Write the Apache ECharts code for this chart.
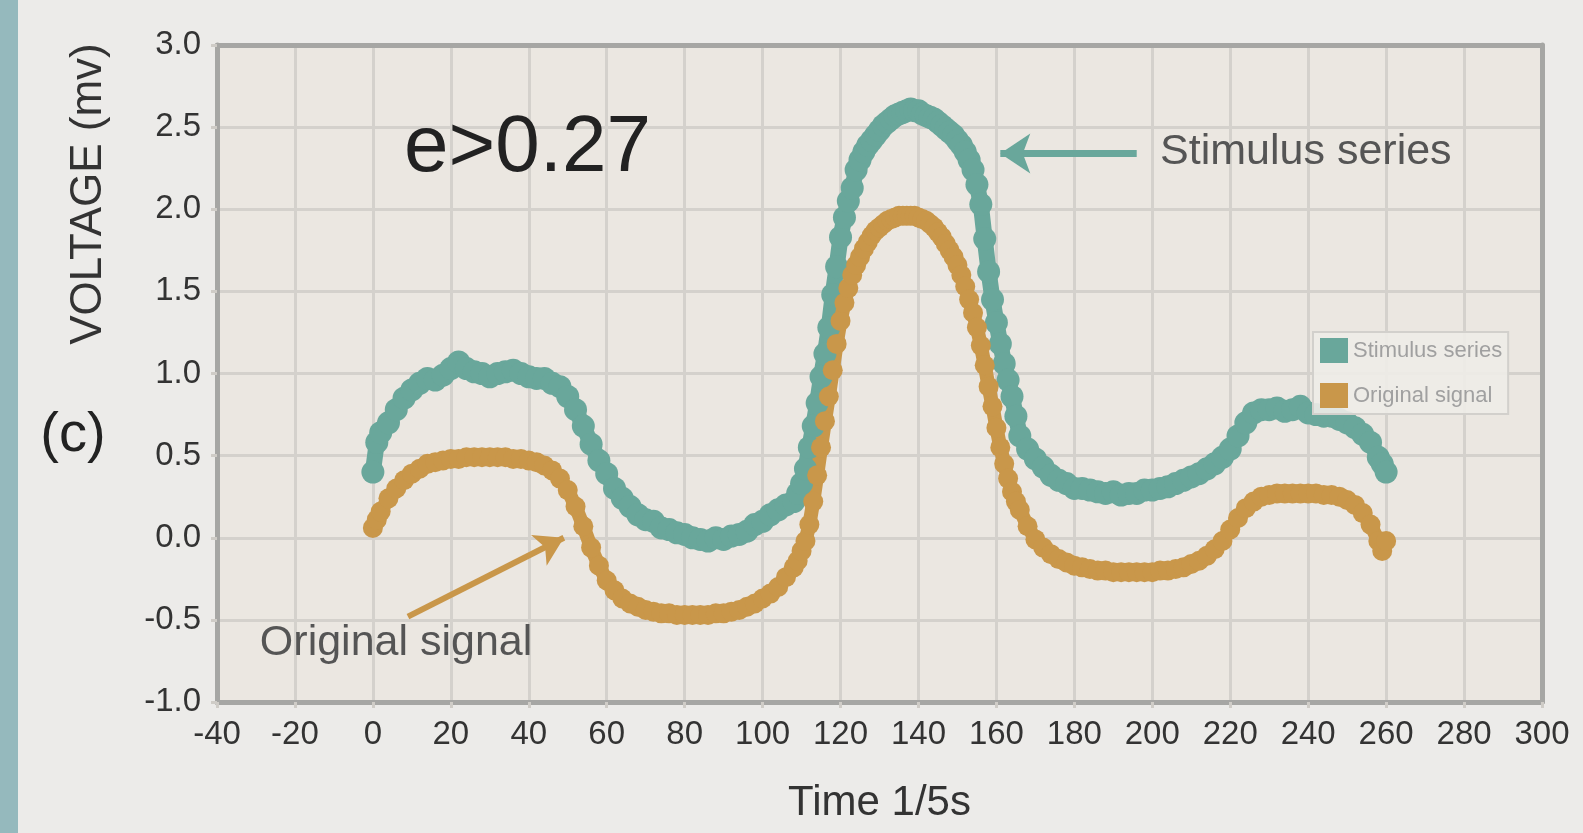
<!DOCTYPE html>
<html>
<head>
<meta charset="utf-8">
<style>
  html, body { margin: 0; padding: 0; background: #ecebe9; }
  #chart { width: 1583px; height: 833px; }
</style>
<script src="https://cdn.jsdelivr.net/npm/echarts@6/dist/echarts.min.js"></script>
</head>
<body>
<div id="chart"></div>
<script>
// sample times (1/5 s), denser where the curves are steep
var times = [0, 1, 2, 4, 6, 8, 10, 12, 14, 16, 18, 20, 22, 24, 26, 28, 30, 32, 34, 36, 38, 40,
  42, 44, 46, 48, 50, 52, 54, 56, 58, 60, 62, 64, 66, 68, 70, 72, 74, 76, 78, 80,
  82, 84, 86, 88, 90, 92, 94, 96, 98, 100, 102, 104, 106, 108, 109, 110,
  111, 112, 113, 114, 115, 116, 117, 118, 119, 120, 121, 122, 123, 124, 125, 126, 127, 128, 129, 130,
  131, 132, 133, 134, 135, 136, 137, 138, 139, 140, 141, 142, 143, 144, 145, 146, 147, 148, 149, 150,
  151, 152, 153, 154, 155, 156, 157, 158, 159, 160, 161, 162, 163, 164, 165, 166, 168, 170,
  172, 174, 176, 178, 180, 182, 184, 186, 188, 190, 192, 194, 196, 198, 200,
  202, 204, 206, 208, 210, 212, 214, 216, 218, 220, 222, 224, 226, 228, 230,
  232, 234, 236, 238, 240, 242, 244, 246, 248, 250, 252, 254, 256, 258, 259, 260];

var stimulus = [0.40, 0.58, 0.64, 0.70, 0.78, 0.85, 0.90, 0.94, 0.97, 0.96, 0.99, 1.03, 1.07, 1.03, 1.01, 1.00, 0.98, 1.00, 1.01, 1.02, 1.00, 0.98,
  0.97, 0.97, 0.94, 0.92, 0.86, 0.78, 0.68, 0.57, 0.47, 0.39, 0.30, 0.24, 0.19, 0.14, 0.11, 0.10, 0.06, 0.05, 0.03, 0.02,
  0.00, -0.01, -0.02, 0.00, -0.01, 0.01, 0.02, 0.04, 0.08, 0.10, 0.14, 0.17, 0.20, 0.22, 0.27, 0.33,
  0.42, 0.55, 0.68, 0.82, 0.98, 1.12, 1.28, 1.48, 1.65, 1.83, 1.95, 2.05, 2.13, 2.24, 2.30, 2.35, 2.39, 2.42, 2.45, 2.48,
  2.51, 2.53, 2.55, 2.57, 2.58, 2.59, 2.60, 2.61, 2.60, 2.60, 2.58, 2.57, 2.56, 2.55, 2.53, 2.51, 2.49, 2.47, 2.45, 2.42,
  2.39, 2.35, 2.30, 2.24, 2.15, 2.03, 1.82, 1.62, 1.45, 1.31, 1.18, 1.06, 0.96, 0.86, 0.74, 0.62, 0.54, 0.48,
  0.43, 0.38, 0.35, 0.33, 0.30, 0.30, 0.29, 0.28, 0.27, 0.28, 0.26, 0.27, 0.27, 0.29, 0.29,
  0.30, 0.31, 0.33, 0.35, 0.37, 0.39, 0.42, 0.45, 0.49, 0.54, 0.62, 0.70, 0.76, 0.78, 0.78,
  0.79, 0.77, 0.78, 0.80, 0.76, 0.75, 0.74, 0.74, 0.72, 0.70, 0.67, 0.63, 0.58, 0.49, 0.45, 0.40];

var original = [0.06, 0.11, 0.16, 0.24, 0.30, 0.35, 0.39, 0.42, 0.45, 0.46, 0.47, 0.48, 0.48, 0.49, 0.49, 0.49, 0.49, 0.49, 0.49, 0.48, 0.48, 0.47,
  0.46, 0.44, 0.41, 0.36, 0.29, 0.19, 0.07, -0.06, -0.17, -0.26, -0.32, -0.37, -0.40, -0.42, -0.44, -0.45, -0.46, -0.46, -0.47, -0.47,
  -0.47, -0.47, -0.47, -0.46, -0.46, -0.45, -0.44, -0.42, -0.40, -0.37, -0.34, -0.30, -0.24, -0.18, -0.14, -0.08,
  -0.02, 0.08, 0.22, 0.38, 0.55, 0.71, 0.86, 1.02, 1.18, 1.32, 1.43, 1.52, 1.60, 1.66, 1.71, 1.76, 1.80, 1.84, 1.87, 1.89,
  1.91, 1.93, 1.94, 1.95, 1.96, 1.96, 1.96, 1.96, 1.96, 1.95, 1.94, 1.93, 1.91, 1.89, 1.86, 1.83, 1.79, 1.75, 1.71, 1.66,
  1.60, 1.53, 1.45, 1.37, 1.28, 1.17, 1.05, 0.92, 0.80, 0.67, 0.55, 0.45, 0.36, 0.28, 0.22, 0.17, 0.07, -0.01,
  -0.06, -0.10, -0.13, -0.15, -0.17, -0.18, -0.19, -0.20, -0.20, -0.21, -0.21, -0.21, -0.21, -0.21, -0.21,
  -0.20, -0.20, -0.19, -0.18, -0.16, -0.14, -0.11, -0.07, -0.02, 0.05, 0.12, 0.18, 0.22, 0.25, 0.26,
  0.27, 0.27, 0.27, 0.27, 0.27, 0.27, 0.26, 0.26, 0.25, 0.23, 0.20, 0.15, 0.08, -0.02, -0.08, -0.02];

var seriesNames = ['Stimulus series', 'Original signal'];
var tealColor = '#69a79b';
var goldColor = '#c9974a';
var frameColor = '#a6a6a4';

function pairs(xs, ys) {
  return xs.map(function (x, i) { return [x, ys[i]]; });
}

var dom = document.getElementById('chart');
var myChart = echarts.init(dom, null, { renderer: 'canvas' });

var gridLine = { show: true, lineStyle: { color: '#d4d1cc', width: 3 } };
var tick = { show: true, length: 6, lineStyle: { color: '#cfccc7', width: 3 } };

var option = {
  animation: false,
  backgroundColor: '#ecebe9',
  textStyle: { fontFamily: 'Liberation Sans' },
  grid: {
    left: 217, right: 41, top: 45, bottom: 131,
    show: true,
    backgroundColor: '#ebe7e1',
    borderWidth: 0
  },
  legend: {
    orient: 'vertical',
    left: 1313, top: 332,
    data: seriesNames,
    icon: 'rect',
    itemWidth: 28, itemHeight: 25, itemGap: 20,
    padding: [6, 6, 6, 7],
    backgroundColor: 'rgba(238,236,232,0.9)',
    borderColor: '#d2d0cc',
    borderWidth: 2,
    textStyle: { fontSize: 22, color: '#a0a0a0', fontFamily: 'Liberation Sans' }
  },
  xAxis: [
    {
      type: 'value',
      min: -40, max: 300, interval: 20,
      name: 'Time 1/5s',
      nameLocation: 'middle',
      nameGap: 80,
      nameTextStyle: { fontSize: 42, color: '#333', fontFamily: 'Liberation Sans' },
      axisLine: { show: true, onZero: false, lineStyle: { color: frameColor, width: 5 } },
      axisTick: tick,
      axisLabel: { fontSize: 33, color: '#333', margin: 16 },
      splitLine: gridLine
    },
    {
      type: 'value', position: 'top',
      min: -40, max: 300, interval: 20,
      axisLine: { show: true, onZero: false, lineStyle: { color: frameColor, width: 5 } },
      axisTick: { show: false }, axisLabel: { show: false }, splitLine: { show: false }
    }
  ],
  yAxis: [
    {
      type: 'value',
      min: -1, max: 3, interval: 0.5,
      axisLine: { show: true, onZero: false, lineStyle: { color: frameColor, width: 5 } },
      axisTick: tick,
      axisLabel: {
        fontSize: 33, color: '#333', margin: 16,
        formatter: function (v) { return v.toFixed(1); }
      },
      splitLine: gridLine
    },
    {
      type: 'value', position: 'right',
      min: -1, max: 3, interval: 0.5,
      axisLine: { show: true, onZero: false, lineStyle: { color: frameColor, width: 5 } },
      axisTick: { show: false }, axisLabel: { show: false }, splitLine: { show: false }
    }
  ],
  series: [
    {
      name: seriesNames[0],
      type: 'line',
      data: pairs(times, stimulus),
      color: tealColor,
      symbol: 'circle',
      symbolSize: 23,
      showAllSymbol: true,
      lineStyle: { width: 16, color: tealColor },
      itemStyle: { color: tealColor },
      emphasis: { disabled: true },
      markLine: {
        silent: true,
        symbol: ['none', 'arrow'],
        symbolSize: [30, 30],
        label: { show: false },
        lineStyle: { color: tealColor, width: 7, type: 'solid' },
        data: [[{ coord: [196, 2.34] }, { coord: [161, 2.34] }]]
      }
    },
    {
      name: seriesNames[1],
      type: 'line',
      data: pairs(times, original),
      color: goldColor,
      symbol: 'circle',
      symbolSize: 20,
      showAllSymbol: true,
      lineStyle: { width: 14, color: goldColor },
      itemStyle: { color: goldColor },
      emphasis: { disabled: true },
      markLine: {
        silent: true,
        symbol: ['none', 'arrow'],
        symbolSize: [26, 28],
        label: { show: false },
        lineStyle: { color: goldColor, width: 6, type: 'solid' },
        data: [[{ coord: [9, -0.48] }, { coord: [49, 0.0] }]]
      }
    }
  ]
};

if (option && typeof option === 'object') {
  myChart.setOption(option);
}

// annotations placed in data coordinates
function px(x, y) { return myChart.convertToPixel({ gridIndex: 0 }, [x, y]); }
var pE = px(8, 2.37);
var pS = px(202, 2.35);
var pO = px(-29, -0.64);

myChart.setOption({
  graphic: [
    { type: 'rect', left: 0, top: 0, z: 100, shape: { width: 18, height: 833 }, style: { fill: '#95b9bd' }, silent: true },
    {
      type: 'text', x: 89, y: 194, rotation: Math.PI / 2, z: 100,
      style: { text: 'VOLTAGE (mv)', font: '44px "Liberation Sans"', fill: '#333', align: 'center', verticalAlign: 'middle' }
    },
    {
      type: 'text', x: 73, y: 436, z: 100,
      style: { text: '(c)', font: '56px "Liberation Sans"', fill: '#222', align: 'center', verticalAlign: 'middle' }
    },
    {
      type: 'text', x: pE[0], y: pE[1], z: 100,
      style: { text: 'e>0.27', font: '80px "Liberation Sans"', fill: '#222', align: 'left', verticalAlign: 'middle' }
    },
    {
      type: 'text', x: pS[0], y: pS[1], z: 100,
      style: { text: 'Stimulus series', font: '43px "Liberation Sans"', fill: '#555', align: 'left', verticalAlign: 'middle' }
    },
    {
      type: 'text', x: pO[0], y: pO[1], z: 100,
      style: { text: 'Original signal', font: '43px "Liberation Sans"', fill: '#555', align: 'left', verticalAlign: 'middle' }
    }
  ]
});

window.addEventListener('resize', myChart.resize);
</script>
</body>
</html>
